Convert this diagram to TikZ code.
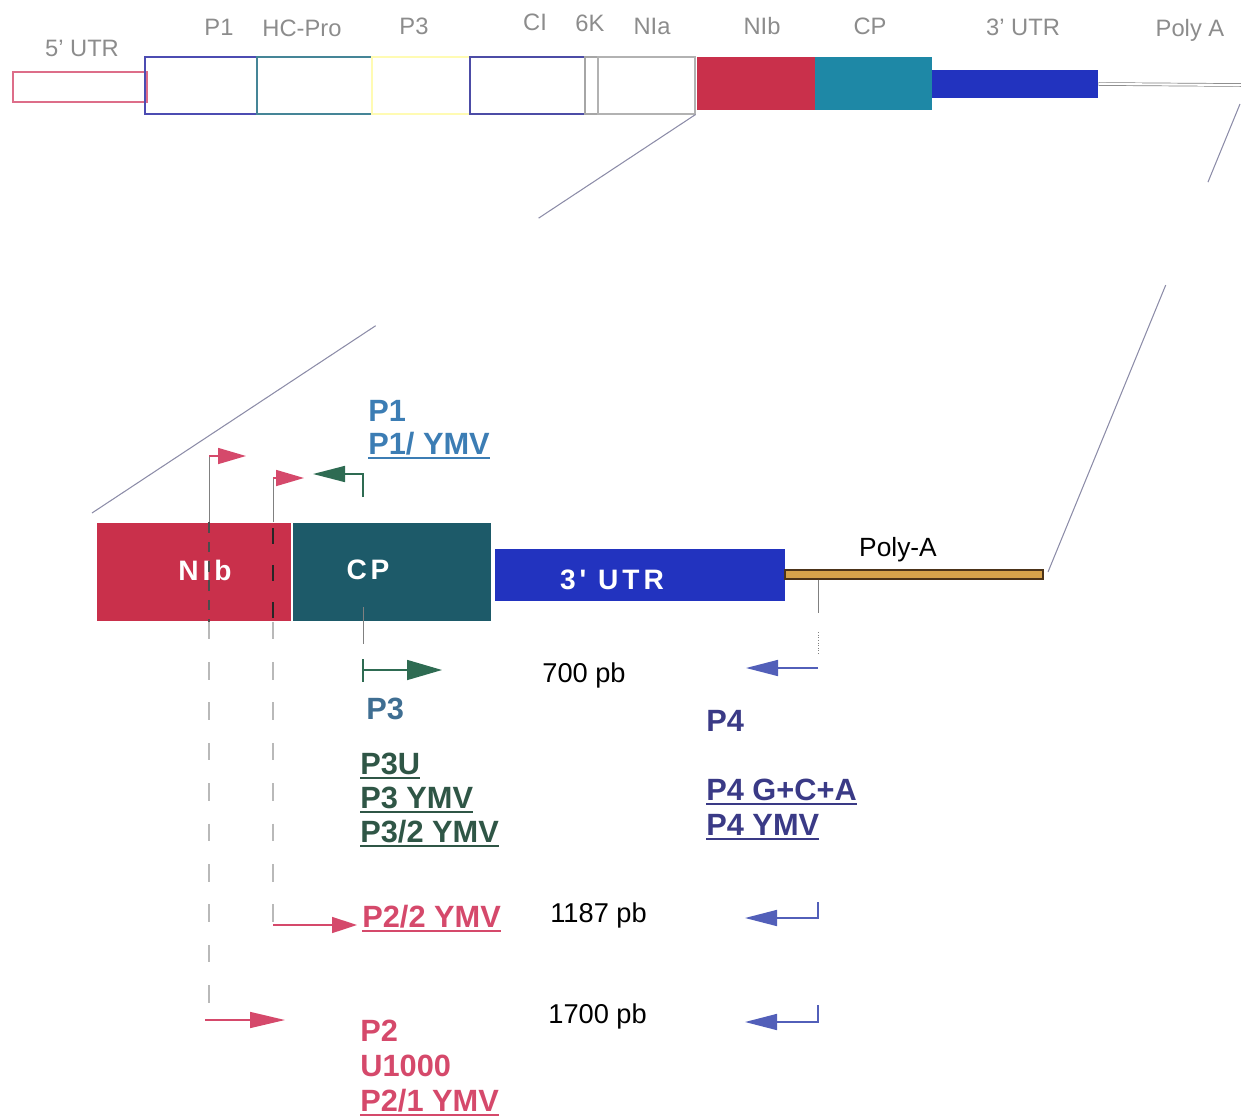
\documentclass[tikz,border=0pt]{standalone}
\usepackage{fontspec}
\setmainfont{Liberation Sans}
\newfontfamily\boxfont[LetterSpace=14]{Liberation Sans}
\usetikzlibrary{arrows.meta,positioning,calc}
\definecolor{nibred}{HTML}{C9304B}
\definecolor{cptop}{HTML}{1E88A6}
\definecolor{cpdark}{HTML}{1D5A69}
\definecolor{utrblue}{HTML}{2233BF}
\definecolor{polyagold}{HTML}{D7A24A}
\definecolor{p2red}{HTML}{D5496B}
\definecolor{p1blue}{HTML}{3C7DB4}
\definecolor{p3green}{HTML}{2E6B52}
\definecolor{p3text}{HTML}{2F5646}
\definecolor{p3blue}{HTML}{3F6E92}
\definecolor{p4blue}{HTML}{4657C8}
\definecolor{p4text}{HTML}{3A3A86}
\definecolor{toplbl}{HTML}{8C8C8C}
\definecolor{projline}{HTML}{8C8CA8}
\newcommand{\undl}[1]{\setbox0=\hbox{#1}\leavevmode\rlap{\rule[-2.8pt]{\wd0}{1.1pt}}\box0}

\begin{document}
\begin{tikzpicture}[x=0.2mm,y=-0.2mm,
gene/.style={draw,inner sep=0,line width=0.6pt},
topl/.style={font=\fontsize{13.5}{15}\selectfont,text=toplbl,anchor=base,inner sep=0},
boxlbl/.style={font=\boxfont\bfseries\fontsize{16}{18}\selectfont,text=white,inner sep=0},
lbl/.style={font=\bfseries\fontsize{17.5}{20}\selectfont,anchor=base west,inner sep=0},
size/.style={font=\fontsize{15.5}{18}\selectfont,anchor=base west,inner sep=0},
prim/.style={line width=0.9pt},
tip/.style={-{Triangle[length=#1,width=3.2mm]}},
tip/.default=6mm,
guide/.style={gray!55,line width=0.6pt,dash pattern=on 10pt off 13pt},
proj/.style={projline,line width=0.6pt}
]
\useasboundingbox (0,0) rectangle (1241,1120);

% genome map
\node[gene,draw=p2red!80,minimum width=26.8mm,minimum height=6mm] (utr5) at (80,87) {};
\node[gene,draw=blue!40!gray,minimum width=22.4mm,minimum height=11.4mm] (gp1) at (201,85.5) {};
\node[gene,draw=cptop!60!gray,minimum width=23mm,minimum height=11.4mm] (hcpro) at (314.5,85.5) {};
\node[gene,draw=yellow!30,minimum width=19.6mm,minimum height=11.4mm] (gp3) at (421,85.5) {};
\node[gene,draw=blue!50!black!70,minimum width=23mm,minimum height=11.4mm] (ci) at (527.5,85.5) {};
\node[gene,draw=gray!70,minimum width=2.6mm,minimum height=11.4mm] (k6) at (591.5,85.5) {};
\node[gene,draw=gray!60,minimum width=19.4mm,minimum height=11.4mm] (nia) at (646.5,85.5) {};
\node[gene,draw=none,fill=nibred,minimum width=23.6mm,minimum height=10.6mm] (gnib) at (756,83.5) {};
\node[gene,draw=none,fill=cptop,minimum width=23.4mm,minimum height=10.6mm] (gcp) at (873.5,83.5) {};
\node[gene,draw=none,fill=utrblue,minimum width=33.2mm,minimum height=5.6mm] (gutr3) at (1015,84) {};
\coordinate (polyend) at (1241,85);
\draw[gray,double=white,double distance=1.2pt,line width=0.4pt] (gutr3.east) -- (polyend);

\node[topl] (t5utr) at (82,56) {5' UTR};
\node[topl] (tp1) at (219,36) {P1};
\node[topl] (thc) at (302,37) {HC-Pro};
\node[topl] (tp3) at (414,34) {P3};
\node[topl] (tci) at (535,30) {CI};
\node[topl] (t6k) at (590,31) {6K};
\node[topl] (tnia) at (652,34) {NIa};
\node[topl] (tnib) at (762,34) {NIb};
\node[topl] (tcp) at (870,34) {CP};
\node[topl] (tutr3) at (1023,36) {3' UTR};
\node[topl] (tpoly) at (1190,37) {Poly A};

% enlarged 3' end
\node[gene,draw=none,fill=nibred,minimum width=38.8mm,minimum height=19.6mm] (nib) at (194,572) {};
\node[gene,draw=none,fill=cpdark,minimum width=39.6mm,minimum height=19.6mm] (cp) at (392,572) {};
\node[gene,draw=none,fill=utrblue,minimum width=58mm,minimum height=10.4mm] (utr) at (640,575) {};
\node[gene,draw=black!60!brown,fill=polyagold,minimum width=51.6mm,minimum height=1.8mm] (polya) at (914,574.5) {};
\node[boxlbl] (lnib) at (205,570) {NIb};
\node[boxlbl] (lcp) at (368,570) {CP};
\node[boxlbl] (lutr) at (612,580) {3' UTR};
\node[font=\fontsize{15}{17}\selectfont,anchor=base,inner sep=0] (lpoly) at (898,556) {Poly-A};

% zoom lines
\coordinate (zl2) at (92,513);
\coordinate (zr1) at (1240,104);
\coordinate (zr2) at (1048,572);
\draw[proj] (nia.south east) -- ($(nia.south east)!0.26!(zl2)$) ($(nia.south east)!0.53!(zl2)$) -- (zl2);
\draw[proj] (zr1) -- ($(zr1)!0.167!(zr2)$) ($(zr1)!0.387!(zr2)$) -- (zr2);

% primer sites
\coordinate (f1) at (209,456);
\coordinate (f2) at (273,478);
\coordinate (r1) at (363,474);
\coordinate (f3) at (363,670);
\coordinate (f4) at (818,668);
\coordinate (p22a) at (272,925);
\coordinate (p2a) at (205,1020);

\draw[gray,line width=0.5pt] (f1 |- nib.north) -- (f1);
\draw[prim,p2red,tip=5.6mm] (f1) -- ++(37,0);
\draw[gray,line width=0.5pt] (f2 |- nib.north) -- (f2);
\draw[prim,p2red,tip=5.6mm] (f2) -- ++(31,0);
\draw[prim,p3green,tip=6.4mm] ($(r1)+(0,23)$) |- (313,474);
\draw[black!70,line width=0.6pt,dash pattern=on 6pt off 5pt] (f1 |- nib.north) -- (f1 |- nib.south);
\draw[black!85,line width=1.6pt,dash pattern=on 9pt off 12pt] ($(f2 |- nib.north)+(0,6)$) -- (f2 |- nib.south);
\draw[gray,line width=0.5pt] (r1 |- cp.north) ++(0,85) -- ++(0,37);

% forward primers below
\draw[guide] (f1 |- nib.south) -- ($(f1 |- p2a)+(0,-15)$);
\draw[prim,p2red,tip=7mm] (p2a) -- ++(80,0);
\draw[guide] (f2 |- nib.south) -- (f2 |- p22a);
\draw[prim,p2red,tip=5mm] (f2 |- p22a) -- ++(84,0);
\draw[prim,p3green] ($(f3)+(0,-11)$) -- ($(f3)+(0,12)$);
\draw[prim,p3green,-{Triangle[length=7mm,width=4mm]}] (f3) -- ++(79,0);

% reverse primers
\draw[gray,line width=0.5pt] (polya.south -| f4) -- ++(0,33);
\draw[gray,line width=0.5pt,densely dotted] ($(f4)+(0,-36)$) -- ($(f4)+(0,-13)$);
\draw[prim,p4blue!80!gray,tip=6.4mm] (f4) -- ++(-72,0);
\draw[prim,p4blue!80!gray,tip=6.4mm] (818,902) |- (745,918);
\draw[prim,p4blue!80!gray,tip=6.4mm] (818,1005) |- (745,1022);

% primer names
\node[lbl,text=p1blue] (np1) at (368,421) {P1};
\node[lbl,text=p1blue] (np1y) at (368,454) {\undl{P1/ YMV}};
\node[lbl,text=p3blue] (np3) at (366,719) {P3};
\node[lbl,text=p3text] (np3u) at (360,774) {\undl{P3U}};
\node[lbl,text=p3text] (np3y) at (360,808) {\undl{P3 YMV}};
\node[lbl,text=p3text] (np32) at (360,842) {\undl{P3/2 YMV}};
\node[lbl,text=p4text] (np4) at (706,731) {P4};
\node[lbl,text=p4text] (np4g) at (706,800) {\undl{P4 G+C+A}};
\node[lbl,text=p4text] (np4y) at (706,835) {\undl{P4 YMV}};
\node[lbl,text=p2red] (np22) at (362,927) {\undl{P2/2 YMV}};
\node[lbl,text=p2red] (np2) at (360,1041) {P2};
\node[lbl,text=p2red] (nu1) at (360,1076) {U1000};
\node[lbl,text=p2red] (np21) at (360,1111) {\undl{P2/1 YMV}};

% product sizes
\node[size] (s700) at (542,682) {700 pb};
\node[size] (s1187) at (550,922) {1187 pb};
\node[size] (s1700) at (548,1023) {1700 pb};
\end{tikzpicture}
\end{document}
